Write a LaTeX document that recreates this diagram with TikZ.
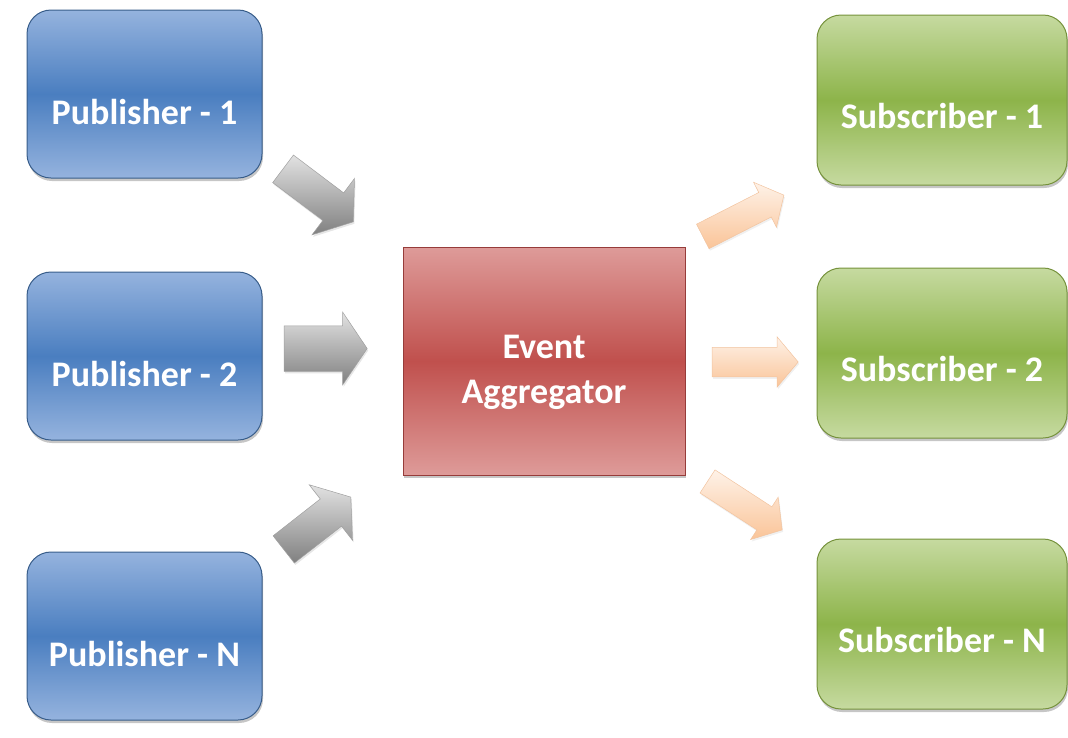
\documentclass[tikz,border=0pt]{standalone}
\usepackage{fontspec}
\setmainfont{Carlito}
\usetikzlibrary{shapes.arrows,shadows}

\definecolor{pubtop}{RGB}{149,179,222}
\definecolor{pubmid}{RGB}{74,126,192}
\definecolor{pubedge}{RGB}{56,93,138}
\definecolor{subtop}{RGB}{198,218,160}
\definecolor{submid}{RGB}{141,180,74}
\definecolor{subedge}{RGB}{118,146,60}
\definecolor{aggtop}{RGB}{222,155,153}
\definecolor{aggmid}{RGB}{192,80,77}
\definecolor{aggedge}{RGB}{150,60,58}
\definecolor{flowlight}{RGB}{226,226,226}
\definecolor{flowdark}{RGB}{128,128,128}
\definecolor{flowedge}{RGB}{160,160,160}
\definecolor{peachlight}{RGB}{254,242,232}
\definecolor{peachdark}{RGB}{250,196,152}
\definecolor{peachedge}{RGB}{242,196,160}

\begin{document}
\begin{tikzpicture}[x=1pt,y=-1pt,
  box/.style={rectangle, inner sep=0pt, line width=1pt, text=white,
    font=\fontsize{36}{45}\selectfont\bfseries,
    drop shadow={shadow xshift=1pt, shadow yshift=-3pt, opacity=0.45}},
  pub/.style={box, rounded corners=24pt, minimum width=235pt, minimum height=168pt,
    draw=pubedge, top color=pubtop, bottom color=pubtop, middle color=pubmid,
    text height=60pt, text depth=0pt},
  sub/.style={box, rounded corners=24pt, minimum width=250pt, minimum height=170pt,
    draw=subedge, top color=subtop, bottom color=subtop, middle color=submid,
    text height=56pt, text depth=0pt},
  agg/.style={box, minimum width=282pt, minimum height=228pt, align=center,
    draw=aggedge, top color=aggtop, bottom color=aggtop, middle color=aggmid,
    text height=84pt, text depth=0pt},
  flow/.style={single arrow, single arrow head indent=0pt, inner sep=0pt,
    outer sep=0pt, text depth=0pt, line width=0.5pt},
  inflow/.style={flow, draw=flowedge, top color=flowlight, bottom color=flowdark,
    drop shadow={shadow xshift=1pt, shadow yshift=-2pt, opacity=0.2}},
  outflow/.style={flow, draw=peachedge, top color=peachlight, bottom color=peachdark,
    drop shadow={shadow xshift=1pt, shadow yshift=-2pt, opacity=0.12}}
]
\useasboundingbox (0,0) rectangle (1068,737);

% publishers
\node[pub] (p1) at (144.5,94)  {Publisher - 1};
\node[pub] (p2) at (144.5,356) {Publisher - 2};
\node[pub] (pn) at (144.5,636) {Publisher - N};

% aggregator
\node[agg] (ea) at (544,361) {Event\\Aggregator};

% subscribers
\node[sub] (s1) at (942,100) {Subscriber - 1};
\node[sub] (s2) at (942,353) {Subscriber - 2};
\node[sub] (sn) at (942,624) {Subscriber - N};

% incoming block arrows
\node[inflow, text height=34pt, single arrow head extend=18pt,
  single arrow tip angle=109, minimum height=88pt, rotate=-37] (g1) at (313.3,191.6) {};
\node[inflow, text height=45pt, single arrow head extend=13.5pt,
  single arrow tip angle=112, minimum height=83pt] (g2) at (318,348.5) {};
\node[inflow, text height=34pt, single arrow head extend=18pt,
  single arrow tip angle=109, minimum height=85pt, rotate=38] (g3) at (312.4,527) {};

% outgoing block arrows
\node[outflow, text height=27pt, single arrow head extend=11.5pt,
  single arrow tip angle=100, minimum height=91pt, rotate=27] (o1) at (738.2,218.4) {};
\node[outflow, text height=29pt, single arrow head extend=10.5pt,
  single arrow tip angle=100, minimum height=86pt] (o2) at (749,362) {};
\node[outflow, text height=27pt, single arrow head extend=11.5pt,
  single arrow tip angle=100, minimum height=89pt, rotate=-33] (o3) at (740,502.5) {};
\end{tikzpicture}
\end{document}
